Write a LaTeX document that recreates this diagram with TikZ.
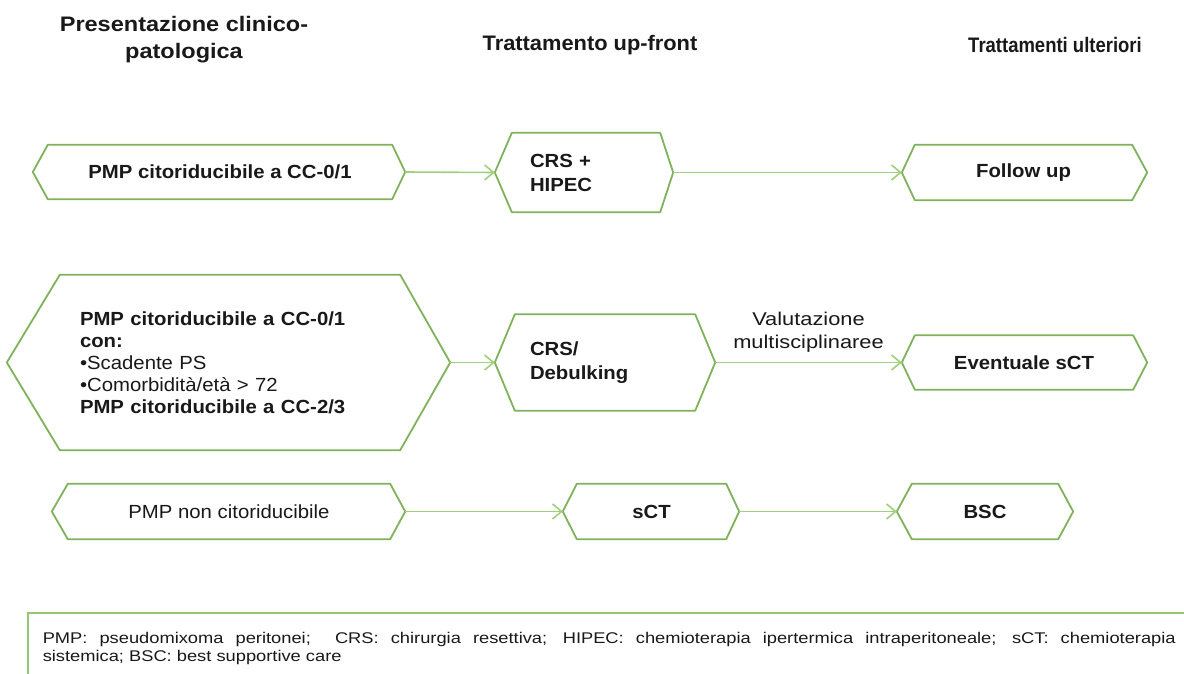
\documentclass[tikz,border=0pt]{standalone}
\usepackage{fontspec}
\setmainfont{Liberation Sans}
\newfontfamily\famBox{Liberation Sans}[FakeStretch=1.07]
\newfontfamily\famHone{Liberation Sans}[FakeStretch=1.12]
\newfontfamily\famHtwo{Liberation Sans}[FakeStretch=1.04]
\newfontfamily\famHthree{Liberation Sans}[FakeStretch=0.88]
\newfontfamily\famLbl{Liberation Sans}[FakeStretch=1.18]
\newfontfamily\famLeg{Liberation Sans}[FakeStretch=1.18]
\usetikzlibrary{arrows.meta,calc}
\definecolor{boxgreen}{RGB}{128,178,92}
\definecolor{arrgreen}{RGB}{160,208,125}
\definecolor{leggreen}{RGB}{150,198,112}
\definecolor{txt}{RGB}{25,25,25}
\newcommand{\hexdraw}[3]{%
  \draw[hexline] (#1.north west) -- (#1.north east) -- ($(#1.east)+(#3,0)$) coordinate (#1-r) -- (#1.south east) -- (#1.south west) -- ($(#1.west)+(-#2,0)$) coordinate (#1-l) -- cycle;}
\begin{document}
\begin{tikzpicture}[x=1pt,y=-1pt,
  hexline/.style={draw=boxgreen,line width=1.8pt,line join=round},
  conn/.style={draw=arrgreen,line width=1.6pt,-{Straight Barb[length=9pt,width=15pt]}},
  boxtxt/.style={font=\famBox\fontsize{19}{24}\selectfont\bfseries,text=txt,inner sep=0pt},
  plaintxt/.style={font=\famBox\fontsize{19}{24}\selectfont,text=txt,inner sep=0pt},
  hdr/.style={text=txt,inner sep=0pt,align=center},
  lbl/.style={font=\famLbl\fontsize{18.5}{23}\selectfont,text=txt,inner sep=0pt,align=center}]
\useasboundingbox (0,0) rectangle (1184,674);
\clip (0,0) rectangle (1184,674);
\fill[white] (0,0) rectangle (1184,674);

% headers
\node[hdr,font=\famHone\fontsize{21}{27}\selectfont\bfseries] (h1) at (184,40) {Presentazione clinico-\\patologica};
\node[hdr,font=\famHtwo\fontsize{21}{27}\selectfont\bfseries] (h2) at (590,45) {Trattamento up-front};
\node[hdr,font=\famHthree\fontsize{21}{27}\selectfont\bfseries] (h3) at (1055,45) {Trattamenti ulteriori};

% row 1
\node[boxtxt,minimum width=344pt,minimum height=54pt] (b1) at (220,172) {PMP citoriducibile a CC-0/1};
\node[boxtxt,minimum width=148pt,minimum height=79pt,text width=112pt,align=left] (b2) at (586,172.5) {CRS +\\HIPEC};
\node[boxtxt,minimum width=217pt,minimum height=55pt] (b3) at (1023.5,172.5) {Follow up};
\hexdraw{b1}{15}{13}
\hexdraw{b2}{17}{13}
\hexdraw{b3}{13}{15}

% row 2
\node[plaintxt,font=\famBox\fontsize{19}{22}\selectfont,minimum width=340pt,minimum height=175pt,text width=300pt,align=left] (b4) at (230,362.5)
  {\textbf{PMP citoriducibile a CC-0/1}\\\textbf{con:}\\\textbullet Scadente PS\\\textbullet Comorbidità/età > 72\\\textbf{PMP citoriducibile a CC-2/3}};
\node[boxtxt,minimum width=180pt,minimum height=96pt,text width=150pt,align=left] (b5) at (605,362.5) {CRS/\\Debulking};
\node[boxtxt,minimum width=218pt,minimum height=54pt] (b6) at (1024,362.5) {Eventuale sCT};
\hexdraw{b4}{53}{50}
\hexdraw{b5}{20}{20}
\hexdraw{b6}{13}{14}

% row 3
\node[plaintxt,minimum width=322pt,minimum height=55pt] (b7) at (229,511.5) {PMP non citoriducibile};
\node[boxtxt,minimum width=149pt,minimum height=55pt] (b8) at (651.5,511.5) {sCT};
\node[boxtxt,minimum width=146pt,minimum height=55pt] (b9) at (985,511.5) {BSC};
\hexdraw{b7}{16}{15}
\hexdraw{b8}{14}{13}
\hexdraw{b9}{15}{15}

% connectors
\draw[conn] (b1-r) -- (b2-l);
\draw[conn] (b2-r) -- (b3-l);
\draw[conn] (b4-r) -- (b5-l);
\draw[conn] (b5-r) -- node[lbl,above=9pt] (lab) {Valutazione\\multisciplinaree} (b6-l);
\draw[conn] (b7-r) -- (b8-l);
\draw[conn] (b8-r) -- (b9-l);

% legend
\node[draw=leggreen,line width=1.5pt,anchor=north west,inner xsep=15pt,inner ysep=0pt,
  minimum height=72pt,text width=1133pt,align=justify,
  font=\famLeg\fontsize{15.5}{18}\selectfont,text=txt] (leg) at (27,612)
  {\hyphenpenalty=10000\relax PMP: pseudomixoma peritonei;\ \ CRS: chirurgia resettiva; HIPEC: chemioterapia ipertermica intraperitoneale; sCT: chemioterapia\linebreak sistemica; BSC: best supportive care};
\end{tikzpicture}
\end{document}
